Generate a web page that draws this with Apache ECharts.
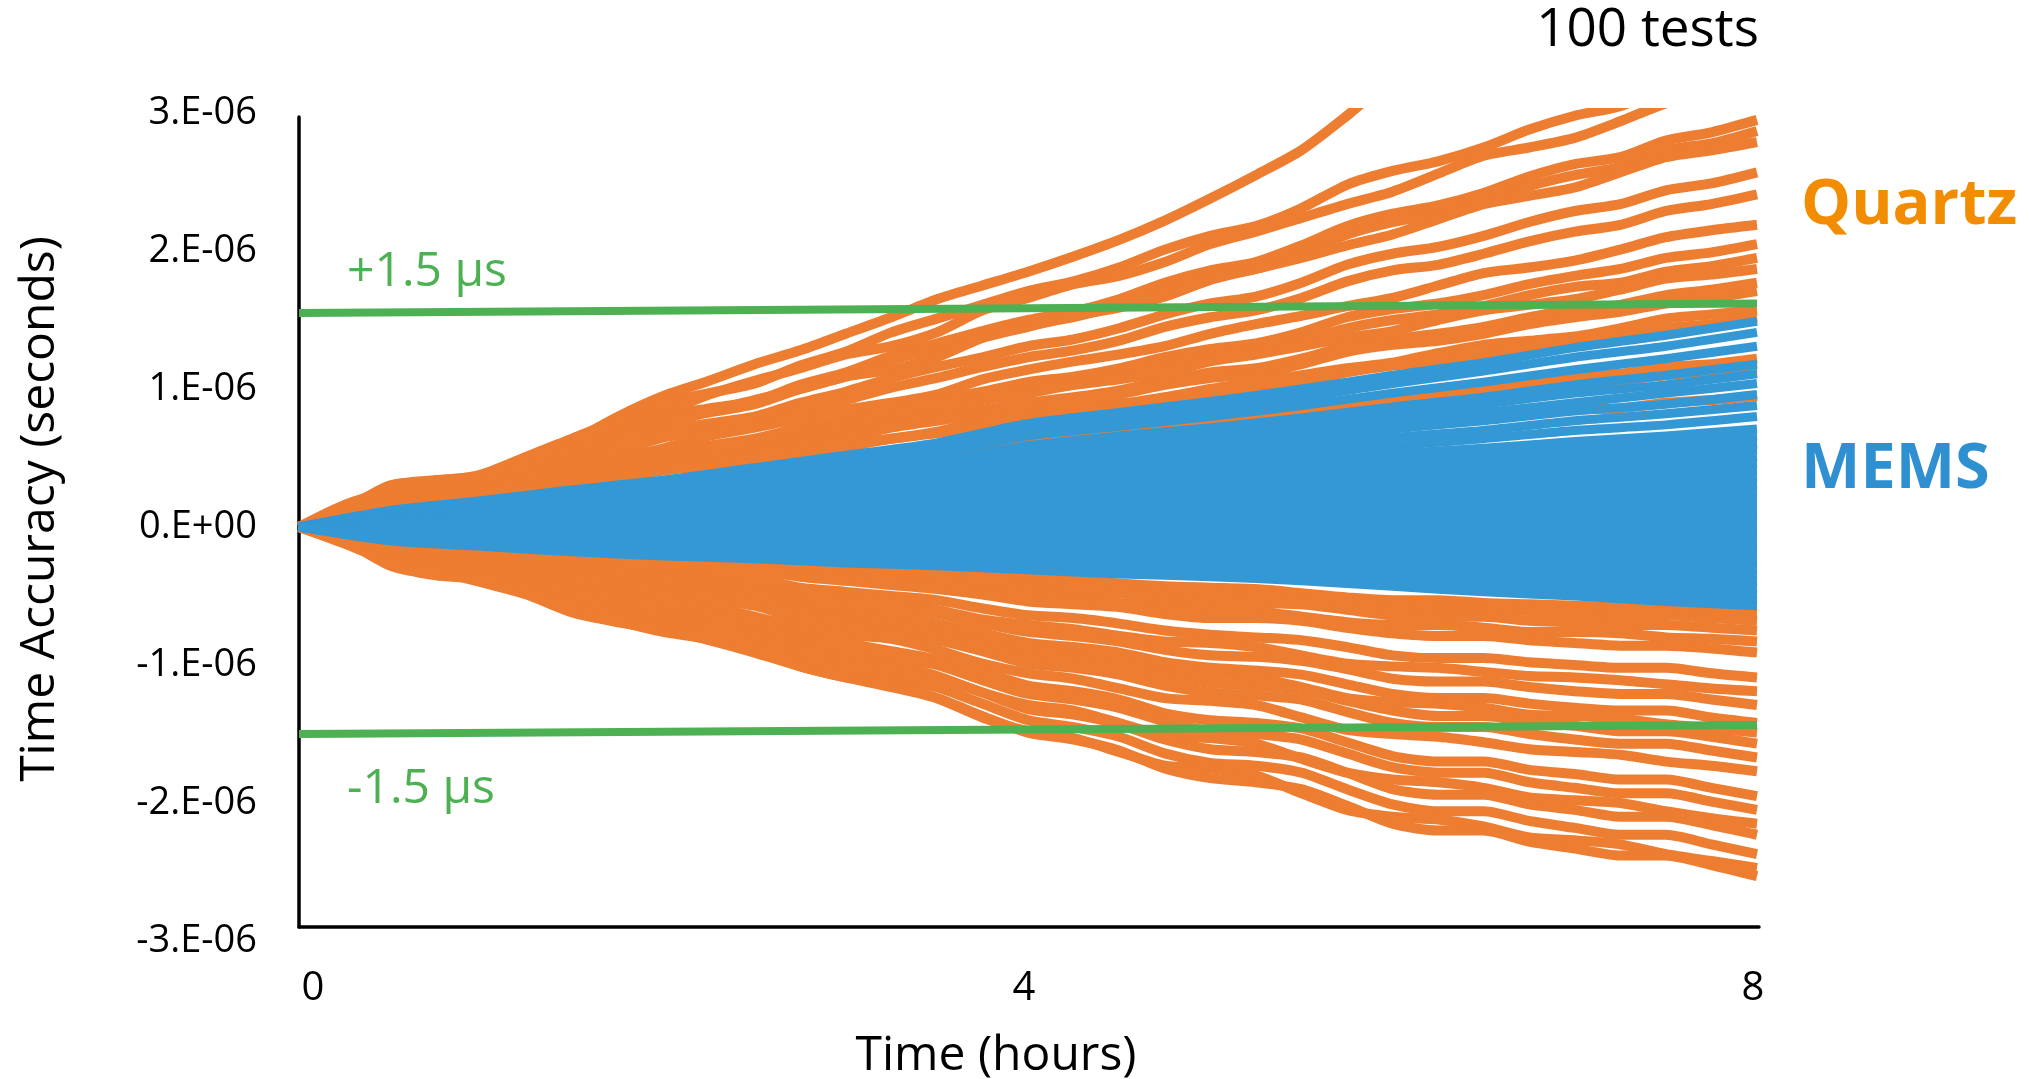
<!DOCTYPE html>
<html>
<head>
<meta charset="utf-8">
<title>Time accuracy, Quartz vs MEMS</title>
<script src="https://cdn.jsdelivr.net/npm/echarts@6/dist/echarts.min.js"></script>
<style>
  html, body { margin: 0; padding: 0; background: #ffffff; }
  #chart { width: 2029px; height: 1079px; }
</style>
</head>
<body>
<div id="chart"></div>
<script>
// Sample times, hours
const quartzHours = [0, 0.25, 0.5, 0.75, 1, 1.25, 1.5, 1.75, 2, 2.25, 2.5, 2.75, 3, 3.25, 3.5, 3.75,
                     4, 4.25, 4.5, 4.75, 5, 5.25, 5.5, 5.75, 6, 6.25, 6.5, 6.75, 7, 7.25, 7.5, 7.75, 8];
const memsHours = [0, 0.5, 1, 1.5, 2, 2.5, 3, 3.5, 4, 4.5, 5, 5.5, 6, 6.5, 7, 7.5, 8];

// Accumulated time error of each quartz run, in units of 0.01 µs
const quartzRuns = [
  [0, 12, 30, 33, 35, 45, 62, 80, 95, 106, 118, 128, 140, 152, 165, 175, 185, 196, 208, 222, 238, 255, 273, 298, 325, 340, 360, 378, 395, 410, 425, 440, 455],
  [0, 13, 30, 34, 37, 47, 64, 77, 90, 97, 104, 117, 127, 141, 151, 161, 171, 178, 188, 201, 211, 218, 231, 248, 258, 265, 275, 288, 298, 305, 318, 325, 335],
  [0, 16, 26, 32, 38, 51, 64, 74, 83, 96, 106, 115, 125, 131, 141, 157, 166, 176, 182, 192, 205, 214, 224, 234, 243, 256, 269, 275, 282, 294, 307, 314, 320],
  [0, 12, 27, 30, 32, 41, 56, 68, 80, 86, 91, 103, 112, 124, 133, 142, 150, 156, 165, 177, 186, 192, 204, 218, 227, 233, 242, 254, 263, 268, 280, 286, 295],
  [0, 11, 26, 29, 32, 40, 55, 66, 77, 83, 89, 100, 109, 121, 129, 138, 146, 152, 161, 172, 181, 187, 198, 212, 221, 227, 235, 247, 255, 261, 273, 278, 287],
  [0, 14, 22, 28, 33, 45, 56, 64, 73, 84, 92, 100, 109, 114, 123, 137, 145, 153, 159, 167, 179, 187, 195, 204, 212, 223, 234, 240, 246, 257, 268, 273, 279],
  [0, 10, 23, 26, 28, 36, 49, 59, 69, 75, 80, 90, 98, 108, 116, 123, 131, 136, 144, 154, 162, 167, 177, 190, 198, 203, 211, 221, 229, 234, 244, 249, 257],
  [0, 10, 22, 24, 27, 34, 46, 55, 65, 70, 75, 84, 92, 101, 108, 116, 123, 128, 135, 145, 152, 157, 166, 178, 186, 190, 198, 207, 214, 219, 229, 234, 241],
  [0, 11, 18, 22, 26, 35, 44, 50, 57, 66, 72, 79, 85, 90, 96, 107, 114, 120, 125, 131, 140, 147, 153, 160, 166, 175, 184, 188, 193, 201, 210, 215, 219],
  [0, 8, 18, 21, 23, 29, 39, 47, 55, 59, 64, 72, 78, 86, 92, 98, 105, 109, 115, 123, 129, 133, 141, 152, 158, 162, 168, 176, 182, 187, 195, 199, 205],
  [0, 8, 18, 20, 21, 27, 37, 45, 53, 57, 60, 68, 74, 82, 88, 94, 99, 103, 109, 117, 123, 127, 135, 144, 150, 154, 160, 168, 174, 177, 185, 189, 195],
  [0, 9, 15, 19, 22, 30, 37, 43, 49, 56, 62, 67, 73, 77, 82, 92, 97, 103, 107, 112, 120, 125, 131, 137, 142, 150, 157, 161, 165, 172, 180, 183, 187],
  [0, 7, 16, 18, 19, 25, 34, 41, 48, 51, 55, 62, 67, 74, 80, 85, 90, 94, 99, 106, 112, 115, 122, 131, 136, 140, 145, 152, 158, 161, 168, 172, 177],
  [0, 7, 15, 17, 19, 24, 32, 39, 46, 50, 53, 60, 65, 72, 77, 82, 87, 91, 96, 103, 108, 111, 118, 127, 132, 135, 140, 147, 152, 156, 162, 166, 171],
  [0, 8, 13, 16, 19, 25, 31, 36, 41, 47, 52, 57, 61, 64, 69, 77, 82, 86, 89, 94, 100, 105, 110, 115, 119, 126, 132, 135, 138, 144, 151, 154, 157],
  [0, 6, 14, 15, 17, 21, 29, 35, 41, 44, 47, 53, 58, 64, 68, 73, 78, 81, 85, 91, 96, 99, 105, 112, 117, 120, 125, 131, 135, 138, 144, 147, 152],
  [0, 5, 11, 12, 13, 17, 23, 28, 33, 35, 38, 43, 46, 51, 55, 59, 62, 65, 68, 73, 77, 79, 84, 90, 94, 96, 100, 105, 109, 111, 116, 118, 122],
  [0, 6, 9, 12, 14, 18, 23, 26, 30, 35, 38, 41, 45, 47, 51, 56, 60, 63, 66, 69, 74, 77, 81, 84, 87, 92, 97, 99, 101, 106, 110, 113, 115],
  [0, 4, 9, 10, 10, 13, 18, 22, 26, 28, 29, 33, 36, 40, 43, 46, 48, 50, 53, 57, 60, 62, 66, 70, 73, 75, 78, 82, 85, 86, 90, 92, 95],
  [0, 2, 5, 6, 7, 8, 11, 14, 16, 17, 19, 21, 23, 25, 27, 29, 31, 32, 34, 36, 38, 39, 41, 44, 46, 47, 49, 52, 53, 55, 57, 58, 60],
  [0, 1, 3, 3, 3, 4, 6, 7, 8, 9, 9, 11, 11, 13, 14, 14, 15, 16, 17, 18, 19, 20, 21, 22, 23, 24, 25, 26, 27, 27, 29, 29, 30],
  [0, -2, -5, -6, -7, -9, -10, -12, -14, -14, -15, -18, -19, -21, -22, -24, -27, -27, -29, -31, -32, -33, -34, -36, -38, -39, -39, -41, -41, -42, -42, -44, -45],
  [0, -3, -6, -8, -10, -12, -16, -17, -19, -20, -23, -25, -27, -29, -31, -35, -37, -38, -41, -43, -44, -45, -48, -51, -53, -53, -55, -56, -57, -58, -60, -61, -62],
  [0, -3, -7, -10, -10, -13, -16, -18, -20, -22, -23, -27, -29, -31, -33, -37, -40, -41, -44, -47, -49, -50, -51, -54, -58, -59, -59, -61, -63, -64, -64, -66, -68],
  [0, -3, -8, -11, -11, -14, -17, -20, -23, -24, -26, -30, -32, -35, -37, -41, -44, -46, -48, -52, -54, -55, -56, -60, -64, -65, -65, -68, -69, -71, -71, -73, -75],
  [0, -4, -8, -11, -13, -17, -21, -23, -25, -27, -31, -34, -37, -38, -42, -46, -50, -51, -55, -58, -59, -61, -65, -69, -71, -71, -73, -76, -76, -77, -80, -81, -83],
  [0, -4, -10, -13, -14, -17, -21, -25, -27, -29, -31, -36, -39, -42, -45, -49, -54, -56, -58, -63, -66, -66, -68, -73, -77, -79, -79, -82, -84, -86, -86, -88, -91],
  [0, -4, -12, -15, -16, -21, -25, -29, -33, -35, -37, -44, -47, -50, -53, -59, -64, -66, -70, -75, -78, -80, -82, -87, -93, -95, -95, -98, -100, -102, -102, -106, -109],
  [0, -6, -12, -15, -19, -24, -30, -33, -36, -39, -44, -49, -52, -55, -60, -67, -71, -74, -79, -83, -84, -87, -93, -99, -101, -102, -105, -108, -109, -111, -114, -117, -119],
  [0, -5, -14, -18, -19, -25, -30, -35, -39, -41, -44, -52, -55, -59, -63, -70, -76, -79, -83, -89, -93, -94, -97, -103, -110, -112, -112, -116, -119, -121, -121, -125, -129],
  [0, -6, -16, -20, -21, -27, -33, -38, -43, -45, -48, -57, -61, -65, -70, -77, -84, -87, -91, -98, -102, -104, -107, -114, -121, -124, -124, -128, -131, -133, -133, -138, -142],
  [0, -7, -15, -19, -24, -30, -37, -42, -45, -49, -55, -61, -66, -69, -75, -83, -89, -92, -98, -104, -106, -109, -116, -124, -127, -128, -131, -136, -137, -139, -143, -146, -149],
  [0, -6, -17, -22, -24, -30, -36, -42, -47, -50, -53, -63, -68, -72, -77, -85, -93, -96, -100, -108, -113, -115, -118, -126, -133, -137, -137, -141, -144, -148, -148, -152, -157],
  [0, -7, -18, -23, -25, -32, -38, -45, -50, -53, -57, -67, -72, -77, -82, -90, -99, -102, -107, -115, -120, -122, -125, -134, -142, -145, -145, -150, -154, -157, -157, -162, -167],
  [0, -9, -18, -23, -28, -35, -44, -50, -53, -58, -65, -73, -78, -81, -89, -99, -106, -110, -117, -124, -126, -129, -138, -147, -150, -152, -156, -161, -163, -165, -170, -173, -177],
  [0, -8, -21, -27, -29, -37, -45, -53, -59, -62, -66, -78, -84, -90, -96, -105, -115, -119, -125, -135, -140, -142, -146, -156, -166, -170, -170, -176, -179, -183, -183, -189, -195],
  [0, -8, -23, -29, -31, -39, -47, -55, -62, -66, -70, -82, -88, -94, -100, -111, -121, -125, -131, -141, -148, -150, -154, -164, -174, -178, -178, -185, -189, -193, -193, -199, -205],
  [0, -11, -22, -28, -34, -43, -54, -60, -65, -71, -80, -88, -95, -99, -108, -120, -129, -133, -142, -151, -153, -157, -168, -178, -183, -185, -189, -196, -198, -200, -206, -211, -215],
  [0, -9, -25, -31, -33, -42, -51, -60, -67, -71, -76, -89, -96, -103, -109, -120, -132, -136, -143, -154, -161, -163, -167, -178, -190, -194, -194, -201, -205, -210, -210, -216, -223],
  [0, -9, -26, -33, -36, -45, -55, -64, -71, -76, -81, -95, -102, -109, -116, -128, -140, -145, -152, -164, -171, -173, -178, -190, -201, -206, -206, -213, -218, -223, -223, -230, -237],
  [0, -12, -25, -32, -40, -49, -62, -69, -74, -82, -91, -101, -109, -114, -124, -138, -148, -153, -163, -173, -175, -180, -193, -205, -210, -212, -217, -225, -227, -230, -237, -242, -247],
  [0, -10, -28, -35, -38, -48, -58, -68, -76, -81, -86, -101, -109, -116, -124, -137, -149, -154, -162, -175, -182, -185, -190, -202, -215, -220, -220, -228, -233, -238, -238, -245, -253]
];

// Accumulated time error of each MEMS run, in units of 0.01 µs
const memsRuns = [
  [0, 12, 19, 27, 34, 43, 52, 61, 75, 83, 91, 100, 110, 119, 130, 139, 149],
  [0, 11, 18, 25, 32, 41, 49, 58, 71, 79, 86, 94, 104, 113, 123, 131, 141],
  [0, 10, 17, 24, 30, 38, 46, 54, 66, 73, 80, 88, 97, 105, 114, 122, 131],
  [0, 9, 15, 21, 27, 34, 41, 48, 59, 66, 72, 79, 87, 94, 103, 110, 118],
  [0, 9, 14, 20, 26, 32, 39, 46, 56, 62, 68, 74, 82, 89, 97, 103, 111],
  [0, 8, 14, 19, 24, 30, 36, 43, 52, 58, 63, 70, 77, 83, 90, 97, 104],
  [0, 8, 12, 17, 22, 28, 34, 39, 48, 54, 59, 64, 71, 77, 84, 89, 96],
  [0, 7, 11, 16, 20, 26, 31, 36, 44, 49, 54, 59, 65, 70, 77, 82, 88],
  [0, 6, 10, 14, 18, 23, 28, 33, 40, 45, 49, 54, 59, 64, 70, 74, 80],
  [0, 6, 9, 13, 16, 21, 25, 29, 36, 40, 43, 48, 53, 57, 62, 66, 71],
  [0, 5, 9, 12, 15, 19, 23, 27, 33, 37, 40, 44, 49, 53, 57, 61, 66],
  [0, 5, 8, 11, 14, 18, 21, 25, 31, 34, 37, 41, 45, 49, 53, 57, 61],
  [0, 4, 7, 10, 13, 16, 20, 23, 28, 31, 34, 38, 41, 45, 49, 52, 56],
  [0, 4, 7, 9, 12, 15, 18, 21, 26, 29, 31, 34, 38, 41, 44, 47, 51],
  [0, 4, 6, 8, 11, 13, 16, 19, 23, 26, 28, 31, 34, 37, 40, 43, 46],
  [0, 3, 5, 7, 9, 12, 14, 17, 21, 23, 25, 27, 30, 33, 36, 38, 41],
  [0, 3, 5, 6, 8, 10, 13, 15, 18, 20, 22, 24, 27, 29, 31, 33, 36],
  [0, 2, 4, 6, 7, 9, 11, 13, 16, 17, 19, 21, 23, 25, 27, 29, 31],
  [0, 2, 3, 5, 6, 8, 9, 11, 13, 15, 16, 17, 19, 21, 23, 24, 26],
  [0, 2, 3, 4, 5, 6, 7, 9, 11, 12, 13, 14, 16, 17, 18, 20, 21],
  [0, 1, 2, 3, 4, 5, 6, 7, 8, 9, 10, 11, 12, 13, 14, 15, 16],
  [0, 1, 1, 2, 3, 3, 4, 5, 6, 6, 7, 7, 8, 9, 10, 10, 11],
  [0, 0, 1, 1, 1, 2, 2, 2, 3, 3, 4, 4, 4, 5, 5, 6, 6],
  [0, 0, 0, 0, 0, 0, 0, 0, 1, 1, 1, 1, 1, 1, 1, 1, 1],
  [0, -1, -1, -1, -1, -2, -2, -2, -2, -2, -3, -3, -3, -3, -4, -4, -4],
  [0, -2, -2, -3, -3, -4, -4, -4, -5, -5, -6, -6, -7, -7, -8, -8, -9],
  [0, -2, -4, -4, -5, -6, -6, -7, -8, -8, -9, -10, -11, -11, -12, -13, -14],
  [0, -3, -5, -6, -7, -8, -9, -9, -10, -11, -12, -13, -14, -16, -17, -18, -19],
  [0, -4, -6, -7, -9, -10, -11, -12, -13, -14, -15, -17, -18, -20, -21, -23, -24],
  [0, -5, -7, -9, -11, -12, -13, -14, -16, -17, -19, -20, -22, -24, -26, -27, -29],
  [0, -6, -9, -11, -13, -14, -15, -17, -18, -20, -22, -23, -26, -28, -30, -32, -34],
  [0, -7, -10, -12, -14, -16, -18, -19, -21, -23, -25, -27, -30, -32, -34, -37, -39],
  [0, -7, -11, -14, -16, -18, -20, -22, -24, -26, -28, -30, -33, -36, -39, -41, -44],
  [0, -8, -12, -15, -18, -20, -22, -24, -26, -29, -31, -34, -37, -40, -43, -46, -49],
  [0, -9, -13, -16, -20, -22, -24, -26, -29, -31, -34, -37, -40, -43, -47, -50, -53],
  [0, -10, -14, -18, -21, -23, -26, -28, -31, -34, -36, -39, -43, -47, -50, -54, -57]
];

// ±1.5 µs accuracy limits, at the start and end of the run (0.01 µs units)
const limitHours = [0, 8];
const limitUpper = [155, 162];
const limitLower = [-150, -143.5];

// Axis ticks (µs) and their printed labels
const yTicks = [-3, -2, -1, 0, 1, 2, 3];
const yTickLabels = ['-3.E-06', '-2.E-06', '-1.E-06', '0.E+00', '1.E-06', '2.E-06', '3.E-06'];
const xTicks = [0, 4, 8];
const xTickLabels = ['0', '4', '8'];

const FONT = '"Open Sans", "Noto Sans", sans-serif';
const QUARTZ = '#ED7D31';
const MEMS = '#3498D5';
const LIMIT = '#4DB053';

function runSeries(run, hrs, color, width) {
  return {
    type: 'line',
    data: run.map((v, i) => [hrs[i], v / 100]),
    showSymbol: false,
    symbol: 'none',
    smooth: 0.25,
    clip: true,
    silent: true,
    lineStyle: { color: color, width: width, cap: 'butt', join: 'round' }
  };
}

const series = [];
quartzRuns.forEach(r => series.push(runSeries(r, quartzHours, QUARTZ, 10)));
memsRuns.forEach(r => series.push(runSeries(r, memsHours, MEMS, 9)));
[limitUpper, limitLower].forEach(lim => series.push({
  type: 'line',
  data: lim.map((v, i) => [limitHours[i], v / 100]),
  showSymbol: false,
  symbol: 'none',
  silent: true,
  lineStyle: { color: LIMIT, width: 8 }
}));

const chart = echarts.init(document.getElementById('chart'), null, { renderer: 'canvas' });

const tickText = { fontFamily: FONT, fontSize: 40, color: '#000' };

chart.setOption({
  animation: false,
  backgroundColor: '#ffffff',
  grid: [
    // data area
    { left: 299, right: 272, top: 113, height: 828 },
    // frame drawn by the axis lines
    { left: 299, right: 270, top: 117, bottom: 152 }
  ],
  xAxis: [
    {
      type: 'value', gridIndex: 0, min: 0, max: 8, interval: 4,
      axisLine: { show: false }, axisTick: { show: false }, splitLine: { show: false },
      axisLabel: {
        margin: 28,
        showMinLabel: true, showMaxLabel: true,
        fontFamily: FONT, fontSize: 40, color: '#000',
        formatter: v => {
          const k = xTicks.indexOf(Math.round(v));
          return k < 0 ? '' : '{t' + k + '|' + xTickLabels[k] + '}';
        },
        rich: {
          t0: Object.assign({ padding: [0, 0, 0, 28] }, tickText),
          t1: Object.assign({ padding: [0, 8, 0, 0] }, tickText),
          t2: Object.assign({ padding: [0, 8, 0, 0] }, tickText)
        }
      }
    },
    {
      type: 'value', gridIndex: 1, min: 0, max: 1,
      axisLine: { show: true, onZero: false, lineStyle: { color: '#000', width: 3.5 } },
      axisTick: { show: false }, axisLabel: { show: false }, splitLine: { show: false }
    }
  ],
  yAxis: [
    {
      type: 'value', gridIndex: 0, min: -3, max: 3, interval: 1,
      axisLine: { show: false }, axisTick: { show: false }, splitLine: { show: false },
      axisLabel: {
        margin: 42,
        showMinLabel: true, showMaxLabel: true,
        fontFamily: FONT, fontSize: 38, color: '#000',
        formatter: v => {
          const k = yTicks.indexOf(Math.round(v));
          return k < 0 ? '' : yTickLabels[k];
        }
      }
    },
    {
      type: 'value', gridIndex: 1, min: 0, max: 1,
      axisLine: { show: true, onZero: false, lineStyle: { color: '#000', width: 3.5 } },
      axisTick: { show: false }, axisLabel: { show: false }, splitLine: { show: false }
    }
  ],
  graphic: [
    { type: 'text', x: 1759, y: 31, style: { text: '100 tests', fill: '#000', font: '53px ' + FONT, textAlign: 'right', textVerticalAlign: 'middle' } },
    { type: 'text', x: 1801, y: 206, style: { text: 'Quartz', fill: '#F28C00', font: 'bold 63px ' + FONT, textAlign: 'left', textVerticalAlign: 'middle' } },
    { type: 'text', x: 1801, y: 470, style: { text: 'MEMS', fill: '#2E90D1', font: 'bold 63px ' + FONT, textAlign: 'left', textVerticalAlign: 'middle' } },
    { type: 'text', x: 347, y: 272, style: { text: '+1.5 µs', fill: LIMIT, font: '48px ' + FONT, textAlign: 'left', textVerticalAlign: 'middle' } },
    { type: 'text', x: 347, y: 789, style: { text: '-1.5 µs', fill: LIMIT, font: '48px ' + FONT, textAlign: 'left', textVerticalAlign: 'middle' } },
    { type: 'text', x: 996, y: 1056, style: { text: 'Time (hours)', fill: '#000', font: '48px ' + FONT, textAlign: 'center', textVerticalAlign: 'middle' } },
    { type: 'text', x: 40, y: 509, rotation: Math.PI / 2, style: { text: 'Time Accuracy (seconds)', fill: '#000', font: '48px ' + FONT, textAlign: 'center', textVerticalAlign: 'middle' } }
  ],
  series: series
});
</script>
</body>
</html>
